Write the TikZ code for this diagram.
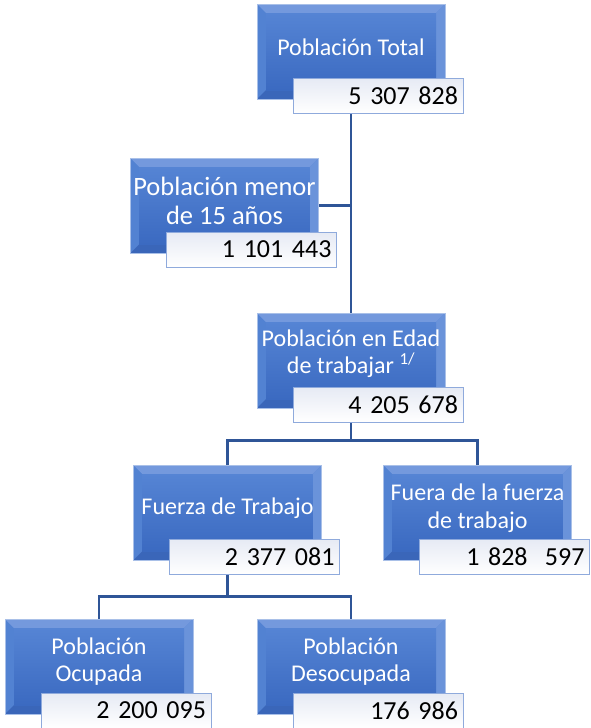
\documentclass[tikz,border=0pt]{standalone}
\usepackage{fontspec}
\setmainfont{Carlito}
\usetikzlibrary{calc}
\pgfdeclarelayer{bg}
\pgfsetlayers{bg,main}
\definecolor{rimblue}{HTML}{A9C0E8}
\definecolor{bevtop}{HTML}{7499DD}
\definecolor{bevleft}{HTML}{5282D2}
\definecolor{bevright}{HTML}{6A93DA}
\definecolor{bevbot}{HTML}{3A66B9}
\definecolor{facetop}{HTML}{5584D4}
\definecolor{facebot}{HTML}{3B6AC1}
\definecolor{connblue}{HTML}{2F5597}
\definecolor{numrim}{HTML}{8FAADC}
\definecolor{numtop}{HTML}{E6EAF4}
\tikzset{
  bluebox/.style={rectangle, minimum width=188, minimum height=95, inner sep=0,
    draw=rimblue, line width=0.8, fill=bevleft,
    path picture={
      \fill[bevtop] (path picture bounding box.north west) -- (path picture bounding box.north east)
        -- ([shift={(-9,-9)}]path picture bounding box.north east) -- ([shift={(9,-9)}]path picture bounding box.north west) -- cycle;
      \fill[bevright] (path picture bounding box.north east) -- (path picture bounding box.south east)
        -- ([shift={(-9,9)}]path picture bounding box.south east) -- ([shift={(-9,-9)}]path picture bounding box.north east) -- cycle;
      \fill[bevbot] (path picture bounding box.south west) -- (path picture bounding box.south east)
        -- ([shift={(-9,9)}]path picture bounding box.south east) -- ([shift={(9,9)}]path picture bounding box.south west) -- cycle;
      \shade[top color=facetop, bottom color=facebot] ([shift={(9,-9)}]path picture bounding box.north west) rectangle ([shift={(-9,9)}]path picture bounding box.south east);
    }},
  numbox/.style={rectangle, minimum height=35, text width=160, inner xsep=5, inner ysep=0,
    align=right, draw=numrim, line width=0.8, top color=numtop, bottom color=white,
    font=\fontsize{26}{30}\selectfont, text=black},
  lbl/.style={align=center, text=white, font=\fontsize{24}{27.5}\selectfont, inner sep=0},
  biglbl/.style={lbl, font=\fontsize{26.5}{29}\selectfont},
  conn/.style={draw=connblue, line width=2.5}
}
\begin{document}
\begin{tikzpicture}[x=1pt,y=1pt]
\useasboundingbox (0,0) rectangle (591,-728);
% blue boxes
\node[bluebox] (b1) at (351,-51.5) {};
\node[bluebox] (b2) at (224.5,-205.5) {};
\node[bluebox] (b3) at (351,-360.5) {};
\node[bluebox] (b4) at (227.5,-512.5) {};
\node[bluebox] (b5) at (477.5,-512.5) {};
\node[bluebox] (b6) at (99,-666.5) {};
\node[bluebox] (b7) at (351,-666.5) {};
% labels
\node[lbl] (t1) at ($(b1.center)+(0,4.5)$) {Población Total};
\node[biglbl] (t2) at ($(b2.center)+(0,5)$) {Población menor\\de 15 años};
\node[lbl] (t3) at ($(b3.center)+(0,7)$) {Población en Edad\\de trabajar \textsuperscript{1/}};
\node[lbl] (t4) at ($(b4.center)+(0,4.5)$) {Fuerza de Trabajo};
\node[lbl] (t5) at ($(b5.center)+(0,4.5)$) {Fuera de la fuerza\\de trabajo};
\node[lbl] (t6) at ($(b6.center)+(0,5)$) {Población\\Ocupada};
\node[lbl] (t7) at ($(b7.center)+(0,5)$) {Población\\Desocupada};
% number boxes
\node[numbox] (w1) at ($(b1.center)+(27,-44)$) {5 307 828};
\node[numbox] (w2) at ($(b2.center)+(27,-44)$) {1 101 443};
\node[numbox] (w3) at ($(b3.center)+(27,-44)$) {4 205 678};
\node[numbox] (w4) at ($(b4.center)+(27,-44)$) {2 377 081};
\node[numbox] (w5) at ($(b5.center)+(27,-44)$) {1 828 \ 597};
\node[numbox] (w6) at ($(b6.center)+(27,-44)$) {2 200 095};
\node[numbox] (w7) at ($(b7.center)+(27,-44)$) {176 986};
% connectors
\coordinate (j1) at ($(b3.south)+(0,-32)$);
\coordinate (j2) at ($(b4.south)+(0,-36)$);
\begin{pgfonlayer}{bg}
\draw[conn] (b1.south) -- (b3.north);
\draw[conn] (b2.east) -- (b2.east -| b1.south);
\draw[conn] (b3.south) -- (j1);
\draw[conn] (b4.north) |- (j1) -| (b5.north);
\draw[conn] (b4.south) -- (j2);
\draw[conn] (b6.north) |- (j2) -| (b7.north);
\end{pgfonlayer}
\end{tikzpicture}
\end{document}
